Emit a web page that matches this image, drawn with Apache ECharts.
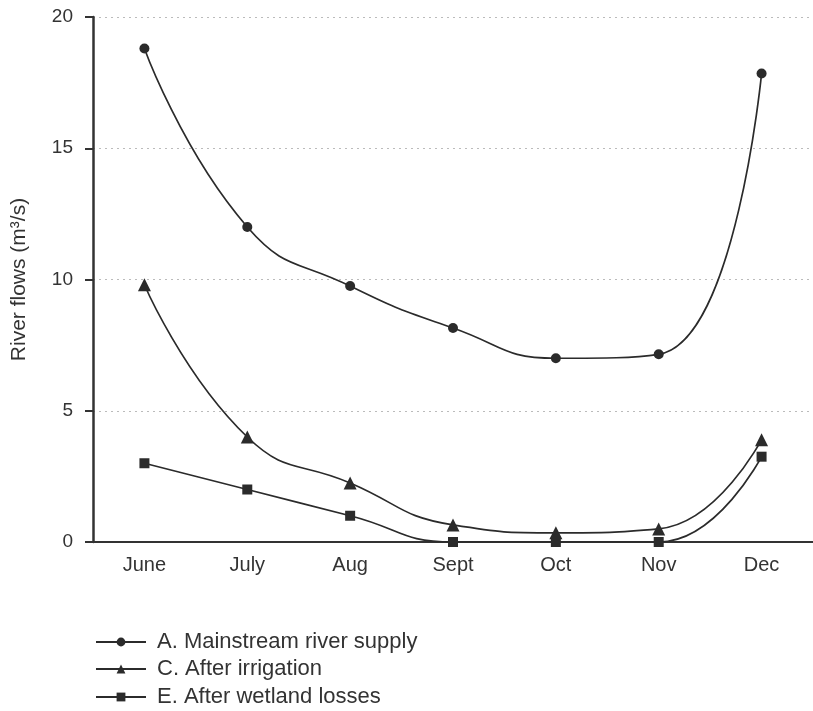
<!DOCTYPE html>
<html>
<head>
<meta charset="utf-8">
<script src="https://cdn.jsdelivr.net/npm/echarts@6/dist/echarts.min.js"></script>
<style>
  html, body { margin: 0; padding: 0; background: #fff; }
  #chart { width: 813px; height: 711px; }
</style>
</head>
<body>
<div id="chart"></div>
<script>
// months on the x axis
const months = ['June', 'July', 'Aug', 'Sept', 'Oct', 'Nov', 'Dec']

// river flows (m3/s)
const mainstream = [18.8, 12.0, 9.75, 8.15, 7.0, 7.15, 17.85]
const afterIrrigation = [9.8, 4.0, 2.25, 0.65, 0.35, 0.5, 3.9]
const afterWetland = [3.0, 2.0, 1.0, 0, 0, 0, 3.25]

const seriesNames = [
  'A. Mainstream river supply',
  'C. After irrigation',
  'E. After wetland losses'
]

const lineColor = '#2b2b2b'
const textColor = '#333'
const font = 'Arial, "Liberation Sans", sans-serif'

const chart = echarts.init(document.getElementById('chart'))

const makeSeries = (name, data, symbol, size) => ({
  name,
  type: 'line',
  data,
  smooth: 0.5,
  symbol,
  symbolSize: size,
  showAllSymbol: true,
  lineStyle: { color: lineColor, width: 1.7 },
  itemStyle: { color: lineColor },
  z: 3
})

// one legend per row so they stack like the original
const legendRowTops = [626, 653, 681]
const legends = seriesNames.map((name, i) => ({
  orient: 'vertical',
  left: 90,
  top: legendRowTops[i],
  itemWidth: 50,
  itemHeight: 11,
  data: [name],
  textStyle: {
    color: textColor,
    fontSize: 22,
    fontFamily: font,
    padding: [0, 0, 0, 6]
  }
}))

chart.setOption({
  animation: false,
  backgroundColor: '#fff',
  grid: {
    left: 93,
    right: -8,
    top: 17,
    bottom: 169,
    containLabel: false
  },
  legend: legends,
  xAxis: {
    type: 'category',
    data: months,
    boundaryGap: true,
    axisLine: { lineStyle: { color: '#333', width: 2 } },
    axisTick: { show: false },
    axisLabel: { color: textColor, fontSize: 20, fontFamily: font, margin: 13 }
  },
  yAxis: {
    type: 'value',
    min: 0,
    max: 20,
    interval: 5,
    name: 'River flows (m³/s)',
    nameLocation: 'middle',
    nameGap: 63,
    nameTextStyle: { color: textColor, fontSize: 21, fontFamily: font },
    axisLine: { show: true, lineStyle: { color: '#333', width: 2.5 } },
    axisTick: { show: true, length: 8, lineStyle: { color: '#333', width: 2 } },
    axisLabel: { color: textColor, fontSize: 19, fontFamily: font, margin: 20 },
    splitLine: {
      show: true,
      lineStyle: { color: '#bbb', type: [2, 4], width: 1 }
    }
  },
  series: [
    makeSeries(seriesNames[0], mainstream, 'circle', 10),
    makeSeries(seriesNames[1], afterIrrigation, 'triangle', 13),
    makeSeries(seriesNames[2], afterWetland, 'rect', 10)
  ]
})
</script>
</body>
</html>
